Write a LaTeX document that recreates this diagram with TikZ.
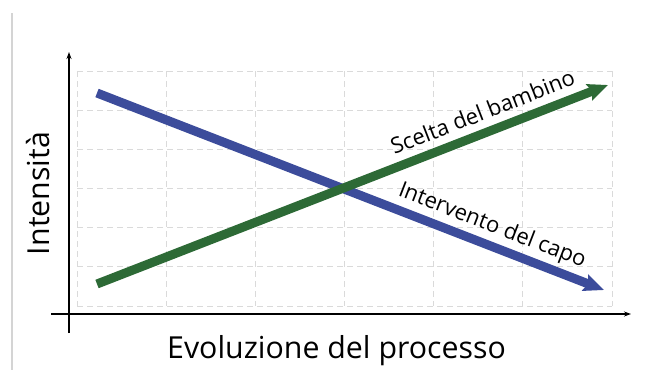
\documentclass[tikz,border=0pt]{standalone}
\usepackage{fontspec}
\setmainfont{Open Sans}
\usetikzlibrary{arrows.meta}
\definecolor{cblue}{HTML}{3C4C9B}
\definecolor{cgreen}{HTML}{2D6A36}
\definecolor{cgrid}{HTML}{DADADA}
\definecolor{cframe}{HTML}{D4D4D4}
\tikzset{
  gridline/.style={draw=cgrid, line width=0.9pt, dash pattern=on 6pt off 4pt},
  axisline/.style={draw=black, line width=1.3pt, -{Stealth[length=7pt,width=5pt]}},
  bigarrow/.style={line width=9pt, -{Stealth[length=20pt,width=17pt,inset=3pt]}},
  axislabel/.style={font=\fontsize{30.3}{32}\selectfont, inner sep=0pt},
  curvelabel/.style={font=\fontsize{22}{24}\selectfont, inner sep=0pt}
}
\begin{document}
\begin{tikzpicture}[x=1pt,y=-1pt]
\useasboundingbox (0,0) rectangle (651,370);
% left frame fragment
\draw[cframe, line width=1.5pt] (12,13) -- (12,370);
% grid
\foreach \i in {0,...,6} {
  \draw[gridline] ({77+\i*89.17},71) -- ({77+\i*89.17},306);
  \draw[gridline] (77,{71+\i*39.17}) -- (612,{71+\i*39.17});
}
% axes
\coordinate (ya) at (69,333);
\coordinate (yb) at (69,52);
\coordinate (xa) at (51,314);
\coordinate (xb) at (631,314);
\draw[axisline] (ya) -- (yb);
\draw[axisline] (xa) -- (xb);
% curves
\coordinate (b0) at (97,93);
\coordinate (b1) at (604,290);
\coordinate (g0) at (97,284);
\coordinate (g1) at (608,85);
\draw[bigarrow, cblue] (b0) -- (b1);
\draw[bigarrow, cgreen] (g0) -- (g1);
% labels
\node[axislabel, anchor=base] (xl) at (336.5,358) {Evoluzione del processo};
\node[axislabel, rotate=90, anchor=base] (yl) at (49.5,193.5) {Intensità};
\node[curvelabel, rotate=21.2, anchor=base] (gl) at (485.5,119.5) {Scelta del bambino};
\node[curvelabel, rotate=-21.2, anchor=base] (bl) at (490,231.5) {Intervento del capo};
\end{tikzpicture}
\end{document}
